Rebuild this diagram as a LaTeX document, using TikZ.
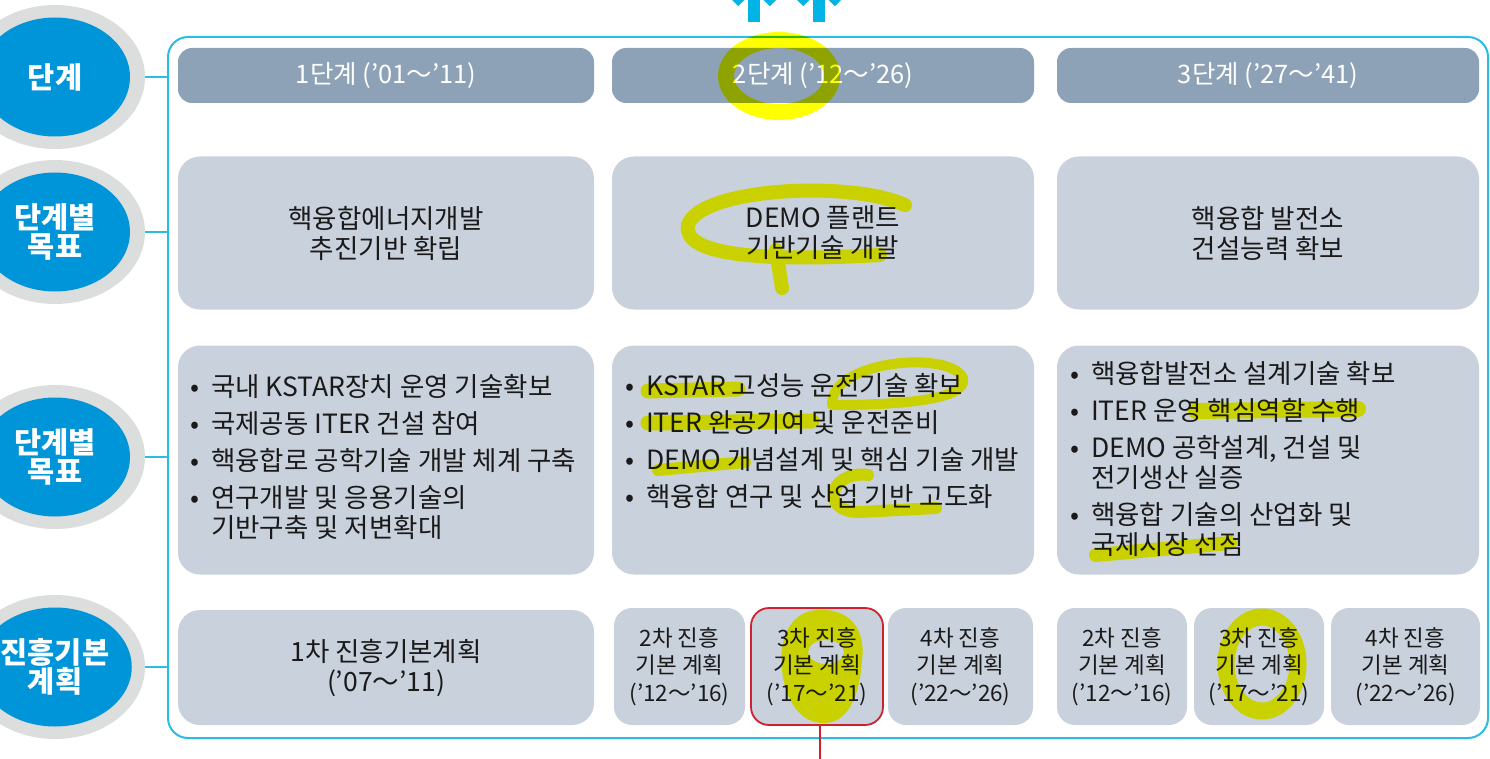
\documentclass[tikz,border=0pt]{standalone}
\usepackage{fontspec}
\setmainfont{Noto Sans CJK KR}
\usetikzlibrary{shapes.geometric}
\definecolor{hdrc}{HTML}{8EA2B7}
\definecolor{boxc}{HTML}{C9D1DD}
\definecolor{blu}{HTML}{0095D9}
\definecolor{ringc}{HTML}{DCDDDD}
\definecolor{cyn}{HTML}{29BDE6}
\definecolor{arrc}{HTML}{00B5E5}
\definecolor{redc}{HTML}{D02030}
\definecolor{txt}{HTML}{1A1A1A}
\definecolor{hl}{HTML}{FFFF00}
\newcommand\bl{\makebox[21pt][l]{•}}
\newcommand\ind{\hspace*{21pt}}
\begin{document}
\begin{tikzpicture}[x=1pt,y=-1pt,
  hdr/.style={fill=hdrc, rounded corners=14pt, text=white, font=\fontsize{25.5}{30}\selectfont, minimum height=55pt, inner sep=0pt},
  gbox/.style={fill=boxc, rounded corners=22pt, inner sep=0pt, text=txt, font=\fontsize{26.5}{30}\selectfont, align=center},
  sbox/.style={fill=boxc, rounded corners=18pt, inner sep=0pt, text=txt, font=\fontsize{22.5}{27.5}\selectfont, align=center, minimum height=117pt},
  ring/.style={ellipse, fill=ringc, minimum width=180pt, minimum height=144pt, inner sep=0pt},
  blob/.style={ellipse, fill=blu, minimum width=150pt, minimum height=119pt, inner sep=0pt, text=white, font=\bfseries\fontsize{29.5}{29}\selectfont, align=center},
  conn/.style={draw=cyn, line width=1.6pt},
  btxt/.style={anchor=west, inner sep=0pt, text=txt, font=\fontsize{26.5}{30}\selectfont, align=left},
  hlm/.style={draw=hl, line cap=round, line join=round},
  uparr/.style={fill=arrc},
  chev/.style={draw=arrc, line width=9pt, line cap=butt}
]
\useasboundingbox (0,0) rectangle (1490,759);
\clip (0,0) rectangle (1490,759);

% top arrows (cut off by the top edge)
\foreach \cx in {754,819}{
  \fill[uparr] (\cx-6,22) rectangle (\cx+6,-40);
  \draw[chev] (\cx-19,3) -- (\cx,-16) -- (\cx+19,3);
}

% outer frame
\node[draw=cyn, line width=2pt, rounded corners=20pt, minimum width=1320pt, minimum height=701pt, inner sep=0pt] (frame) at (828,387.5) {};

% left circles
\node[ring] (g1) at (55,77) {};
\node[blob] (c1) at (55,77) {단계};
\node[ring] (g2) at (55,232) {};
\node[blob] (c2) at (55,232) {단계별\\목표};
\node[ring] (g3) at (55,457) {};
\node[blob] (c3) at (55,457) {단계별\\목표};
\node[ring] (g4) at (55,667) {};
\node[blob] (c4) at (55,667) {진흥기본\\계획};

\draw[conn] (g1.east) -- (g1.east -| frame.west);
\draw[conn] (g2.east) -- (g2.east -| frame.west);
\draw[conn] (g3.east) -- (g3.east -| frame.west);
\draw[conn] (g4.east) -- (g4.east -| frame.west);

% row 1 headers
\node[hdr, minimum width=416pt] (h1) at (386,75.5) {1단계 ('01～'11)};
\node[hdr, minimum width=422pt] (h2) at (823,75.5) {2단계 ('12～'26)};
\node[hdr, minimum width=422pt] (h3) at (1268,75.5) {3단계 ('27～'41)};

% row 2
\node[gbox, minimum width=416pt, minimum height=153pt] (r2a) at (386,233) {핵융합에너지개발\\추진기반 확립};
\node[gbox, minimum width=422pt, minimum height=153pt] (r2b) at (823,233) {DEMO 플랜트\\기반기술 개발};
\node[gbox, minimum width=422pt, minimum height=153pt] (r2c) at (1268,233) {핵융합 발전소\\건설능력 확보};

% row 3
\node[gbox, minimum width=416pt, minimum height=229pt] (r3a) at (386,460) {};
\node[gbox, minimum width=422pt, minimum height=229pt] (r3b) at (823,460) {};
\node[gbox, minimum width=422pt, minimum height=229pt] (r3c) at (1268,460) {};

\node[btxt] (t3a) at (190,457) {\bl 국내 KSTAR장치 운영 기술확보\\[7pt]\bl 국제공동 ITER 건설 참여\\[7pt]\bl 핵융합로 공학기술 개발 체계 구축\\[7pt]\bl 연구개발 및 응용기술의\\\ind 기반구축 및 저변확대};
\node[btxt] (t3b) at (625,440.5) {\bl KSTAR 고성능 운전기술 확보\\[7pt]\bl ITER 완공기여 및 운전준비\\[7pt]\bl DEMO 개념설계 및 핵심 기술 개발\\[7pt]\bl 핵융합 연구 및 산업 기반 고도화};
\node[btxt] (t3c) at (1070,459) {\bl 핵융합발전소 설계기술 확보\\[7pt]\bl ITER 운영 핵심역할 수행\\[7pt]\bl DEMO 공학설계, 건설 및\\\ind 전기생산 실증\\[7pt]\bl 핵융합 기술의 산업화 및\\\ind 국제시장 선점};

% row 4
\node[gbox, minimum width=416pt, minimum height=115pt] (p1) at (386,667.5) {1차 진흥기본계획\\('07～'11)};
\node[sbox, minimum width=131pt] (p2) at (679.5,666.5) {2차 진흥\\기본 계획\\('12～'16)};
\node[sbox, minimum width=132pt, draw=redc, line width=1.8pt] (p3) at (817,666.5) {3차 진흥\\기본 계획\\('17～'21)};
\node[sbox, minimum width=145pt] (p4) at (960.5,666.5) {4차 진흥\\기본 계획\\('22～'26)};
\node[sbox, minimum width=130pt] (q2) at (1122,666.5) {2차 진흥\\기본 계획\\('12～'16)};
\node[sbox, minimum width=130pt] (q3) at (1259,666.5) {3차 진흥\\기본 계획\\('17～'21)};
\node[sbox, minimum width=149pt] (q4) at (1405.5,666.5) {4차 진흥\\기본 계획\\('22～'26)};

\coordinate (redend) at (820,760);
\draw[draw=redc, line width=1.8pt] (p3.south -| redend) -- (redend);

% yellow hand-drawn highlights
\begin{scope}[blend mode=multiply]
  \draw[hlm, line width=16pt] (779,76) ellipse [x radius=53pt, y radius=36pt];
  \draw[hlm, line width=14pt] (905,205) .. controls (850,180) and (700,188) .. (688,225) .. controls (682,255) and (760,262) .. (880,255);
  \draw[hlm, line width=14pt] (776,250) -- (782,288);
  \draw[hlm, line width=15pt] (648,391) -- (738,389);
  \draw[hlm, line width=10pt] (832,405) .. controls (830,360) and (950,350) .. (963,378) .. controls (968,400) and (900,405) .. (832,405);
  \draw[hlm, line width=15pt] (648,423) -- (812,421);
  \draw[hlm, line width=12pt] (658,470) -- (745,462);
  \draw[hlm, line width=12pt] (868,475) .. controls (830,470) and (818,512) .. (860,512) -- (936,508);
  \draw[hlm, line width=16pt] (1196,411) -- (1358,409);
  \draw[hlm, line width=14pt] (1096,555) -- (1230,543);
  \fill[hl, even odd rule] (818,610) .. controls (850,608) and (866,630) .. (862,660) .. controls (860,692) and (850,722) .. (825,723) .. controls (800,724) and (785,700) .. (782,670) .. controls (778,640) and (790,611) .. (818,610)
     (826,652) ellipse [x radius=18pt, y radius=12pt];
  \draw[hlm, line width=17pt] (1262,664) ellipse [x radius=36pt, y radius=47pt];
\end{scope}
\end{tikzpicture}
\end{document}
